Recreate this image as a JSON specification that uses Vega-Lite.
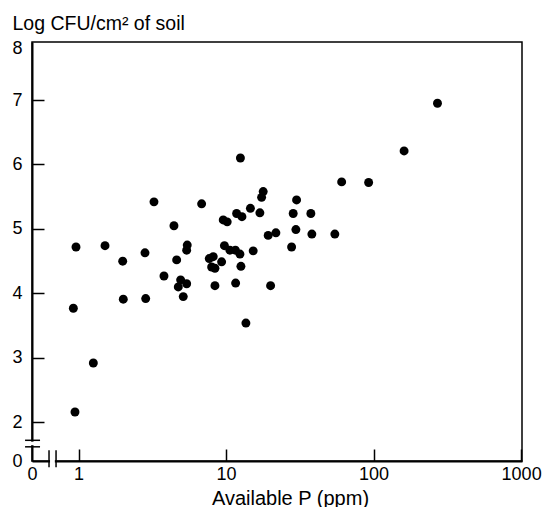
{
  "$schema": "https://vega.github.io/schema/vega-lite/v6.json",
  "width": 490,
  "height": 419,
  "autosize": {"type": "none"},
  "padding": {"left": 32, "top": 42, "right": 23, "bottom": 46},
  "background": "white",
  "config": {
    "view": {"stroke": "black", "strokeWidth": 1.5},
    "font": "Liberation Sans",
    "axis": {
      "grid": false,
      "domainColor": "black",
      "domainWidth": 2,
      "tickColor": "black",
      "tickWidth": 1.5,
      "tickSize": -12,
      "labelColor": "black",
      "labelFontSize": 18,
      "labelFont": "Liberation Sans",
      "labelFlush": false,
      "labelOverlap": false,
      "titleColor": "black",
      "titleFont": "Liberation Sans",
      "titleFontWeight": "normal"
    }
  },
  "layer": [
    {
      "data": {
        "values": [
          {"P": 0.945, "logCFU": 2.16},
          {"P": 0.921, "logCFU": 3.77},
          {"P": 0.96, "logCFU": 4.72},
          {"P": 1.258, "logCFU": 2.92},
          {"P": 1.51, "logCFU": 4.74},
          {"P": 1.99, "logCFU": 4.5},
          {"P": 2.008, "logCFU": 3.91},
          {"P": 2.818, "logCFU": 4.63},
          {"P": 2.849, "logCFU": 3.92},
          {"P": 3.243, "logCFU": 5.42},
          {"P": 3.79, "logCFU": 4.27},
          {"P": 4.43, "logCFU": 5.05},
          {"P": 4.62, "logCFU": 4.52},
          {"P": 4.917, "logCFU": 4.21},
          {"P": 5.401, "logCFU": 4.15},
          {"P": 4.738, "logCFU": 4.1},
          {"P": 5.121, "logCFU": 3.95},
          {"P": 5.451, "logCFU": 4.75},
          {"P": 5.401, "logCFU": 4.67},
          {"P": 6.823, "logCFU": 5.39},
          {"P": 12.5, "logCFU": 6.1},
          {"P": 9.558, "logCFU": 5.14},
          {"P": 10.17, "logCFU": 5.11},
          {"P": 11.78, "logCFU": 5.24},
          {"P": 12.8, "logCFU": 5.19},
          {"P": 14.61, "logCFU": 5.32},
          {"P": 16.94, "logCFU": 5.25},
          {"P": 17.84, "logCFU": 5.58},
          {"P": 17.4, "logCFU": 5.49},
          {"P": 9.74, "logCFU": 4.74},
          {"P": 10.61, "logCFU": 4.67},
          {"P": 11.56, "logCFU": 4.67},
          {"P": 12.41, "logCFU": 4.61},
          {"P": 15.26, "logCFU": 4.66},
          {"P": 12.6, "logCFU": 4.42},
          {"P": 7.685, "logCFU": 4.54},
          {"P": 8.178, "logCFU": 4.57},
          {"P": 7.977, "logCFU": 4.41},
          {"P": 8.4, "logCFU": 4.39},
          {"P": 9.322, "logCFU": 4.49},
          {"P": 8.4, "logCFU": 4.12},
          {"P": 11.6, "logCFU": 4.16},
          {"P": 13.62, "logCFU": 3.54},
          {"P": 20.02, "logCFU": 4.12},
          {"P": 19.28, "logCFU": 4.9},
          {"P": 21.75, "logCFU": 4.94},
          {"P": 27.79, "logCFU": 4.72},
          {"P": 29.72, "logCFU": 4.99},
          {"P": 28.49, "logCFU": 5.24},
          {"P": 30.04, "logCFU": 5.45},
          {"P": 37.54, "logCFU": 5.24},
          {"P": 38.14, "logCFU": 4.92},
          {"P": 54.59, "logCFU": 4.92},
          {"P": 60.71, "logCFU": 5.73},
          {"P": 92.5, "logCFU": 5.72},
          {"P": 160.9, "logCFU": 6.21},
          {"P": 271, "logCFU": 6.95}
        ]
      },
      "mark": {"type": "circle", "size": 80, "color": "black", "opacity": 1},
      "encoding": {
        "x": {
          "field": "P",
          "type": "quantitative",
          "scale": {"type": "log", "domain": [0.483, 1014], "nice": false},
          "axis": {
            "values": [0.483, 1, 10, 100, 1000],
            "labelExpr": "datum.value < 0.9 ? '0' : format(datum.value, 'd')",
            "tickOpacity": {"condition": {"test": "datum.value < 0.9", "value": 0}, "value": 1},
            "labelPadding": 16,
            "title": "Available P (ppm)",
            "titleFontSize": 20,
            "titleX": 258,
            "titleY": 43,
            "titleAlign": "center",
            "titleBaseline": "alphabetic"
          }
        },
        "y": {
          "field": "logCFU",
          "type": "quantitative",
          "scale": {"domain": [1.4, 7.9], "nice": false, "zero": false},
          "axis": {
            "values": [1.4, 2, 3, 4, 5, 6, 7, 7.8],
            "labelExpr": "datum.value < 1.5 ? '0' : (datum.value > 7.5 ? '8' : format(datum.value, 'd'))",
            "tickOpacity": {"condition": {"test": "datum.value < 1.5 || datum.value > 7.5", "value": 0}, "value": 1},
            "labelPadding": 22,
            "title": "Log CFU/cm² of soil",
            "titleFontSize": 19.5,
            "titleAngle": 0,
            "titleX": -20,
            "titleY": -13,
            "titleAlign": "left",
            "titleBaseline": "alphabetic"
          }
        }
      }
    },
    {
      "data": {"values": [{}]},
      "mark": {"type": "rule", "color": "white", "strokeWidth": 4},
      "encoding": {
        "x": {"datum": 0.64, "type": "quantitative"},
        "x2": {"datum": 0.69},
        "y": {"datum": 1.4, "type": "quantitative"}
      }
    },
    {
      "data": {"values": [{}]},
      "mark": {"type": "rule", "color": "white", "strokeWidth": 4},
      "encoding": {
        "x": {"datum": 0.483, "type": "quantitative"},
        "y": {"datum": 1.645, "type": "quantitative"},
        "y2": {"datum": 1.7}
      }
    },
    {
      "data": {"values": [{}]},
      "mark": {"type": "rule", "color": "black", "strokeWidth": 1.5},
      "encoding": {
        "x": {"datum": 0.63, "type": "quantitative"},
        "y": {"datum": 1.302, "type": "quantitative"},
        "y2": {"datum": 1.566}
      }
    },
    {
      "data": {"values": [{}]},
      "mark": {"type": "rule", "color": "black", "strokeWidth": 1.5},
      "encoding": {
        "x": {"datum": 0.703, "type": "quantitative"},
        "y": {"datum": 1.302, "type": "quantitative"},
        "y2": {"datum": 1.566}
      }
    },
    {
      "data": {"values": [{}]},
      "mark": {"type": "rule", "color": "black", "strokeWidth": 1.5},
      "encoding": {
        "x": {"datum": 0.4334, "type": "quantitative"},
        "x2": {"datum": 0.5476},
        "y": {"datum": 1.721, "type": "quantitative"}
      }
    },
    {
      "data": {"values": [{}]},
      "mark": {"type": "rule", "color": "black", "strokeWidth": 1.5},
      "encoding": {
        "x": {"datum": 0.4334, "type": "quantitative"},
        "x2": {"datum": 0.5476},
        "y": {"datum": 1.62, "type": "quantitative"}
      }
    }
  ]
}
